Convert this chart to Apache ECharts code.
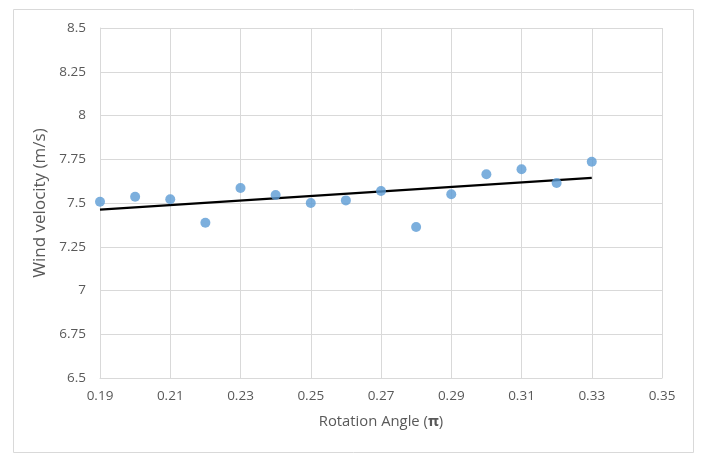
<!DOCTYPE html>
<html>
<head>
<meta charset="utf-8">
<script src="https://cdn.jsdelivr.net/npm/echarts@6/dist/echarts.min.js"></script>
<style>html,body{margin:0;padding:0;background:#fff}#c{width:710px;height:458px}</style>
</head>
<body>
<div id="c"></div>
<script>
const angles = [0.19,0.20,0.21,0.22,0.23,0.24,0.25,0.26,0.27,0.28,0.29,0.30,0.31,0.32,0.33];
const velocities = [7.507,7.536,7.521,7.387,7.586,7.546,7.500,7.515,7.569,7.363,7.550,7.664,7.693,7.614,7.736];
const xTicks = [0.19,0.21,0.23,0.25,0.27,0.29,0.31,0.33,0.35];
const yTicks = [6.5,6.75,7,7.25,7.5,7.75,8,8.25,8.5];

// linear least-squares trendline from the data
const n = angles.length;
const mx = angles.reduce((a,b)=>a+b,0)/n;
const my = velocities.reduce((a,b)=>a+b,0)/n;
let sxy=0, sxx=0;
for (let i=0;i<n;i++){ sxy+=(angles[i]-mx)*(velocities[i]-my); sxx+=(angles[i]-mx)**2; }
const slope = sxy/sxx, icpt = my - slope*mx;
const trend = [[angles[0], icpt+slope*angles[0]],[angles[n-1], icpt+slope*angles[n-1]]];

const font = 'Open Sans, Noto Sans, sans-serif';
const chart = echarts.init(document.getElementById('c'));
chart.setOption({
  animation:false,
  graphic:[{type:'rect',shape:{x:13.5,y:9.5,width:680,height:443},style:{fill:'none',stroke:'#d9d9d9',lineWidth:1},silent:true}],
  grid:{left:100,right:48,top:28,bottom:80},
  xAxis:{
    type:'value', min:xTicks[0], max:xTicks[xTicks.length-1],
    axisLine:{show:true,lineStyle:{color:'#d9d9d9'}},
    axisTick:{show:false, customValues:xTicks},
    axisLabel:{customValues:xTicks, color:'#595959', fontFamily:font, fontSize:13.5, margin:11,
      formatter:v=>v.toFixed(2)},
    splitLine:{show:true,lineStyle:{color:'#d9d9d9'}},
    name:'{a|Rotation Angle (}{b|π}{a|)}', nameLocation:'middle', nameGap:36,
    nameTextStyle:{rich:{a:{color:'#595959',fontFamily:font,fontSize:14.8},b:{color:'#595959',fontFamily:font,fontSize:14.8,fontWeight:'bold'}}}
  },
  yAxis:{
    type:'value', min:yTicks[0], max:yTicks[yTicks.length-1], interval:0.25,
    axisLine:{show:true,lineStyle:{color:'#d9d9d9'}},
    axisTick:{show:false},
    axisLabel:{color:'#595959', fontFamily:font, fontSize:13.5, margin:14},
    splitLine:{show:true,lineStyle:{color:'#d9d9d9'}},
    name:'Wind velocity (m/s)', nameLocation:'middle', nameGap:42,
    nameTextStyle:{color:'#595959',fontFamily:font,fontSize:17}
  },
  series:[
    {type:'line', data:trend, symbol:'none', lineStyle:{color:'#000',width:2.2}, z:2},
    {type:'scatter', data:angles.map((a,i)=>[a,velocities[i]]), symbolSize:10, itemStyle:{color:'#5b9bd5'}, z:3}
  ]
});
</script>
</body>
</html>
